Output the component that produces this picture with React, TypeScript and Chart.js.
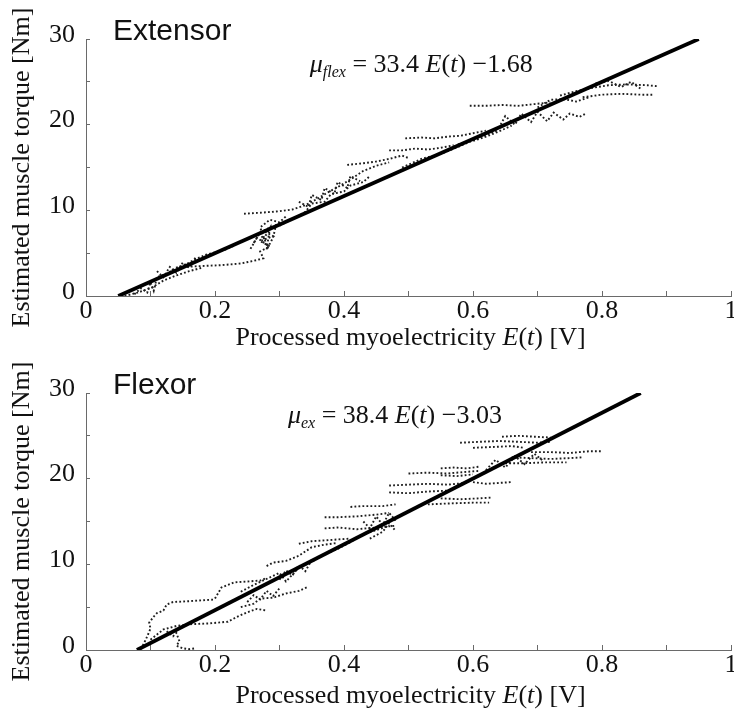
import React, { useEffect, useRef } from 'react';
import { Chart, registerables } from 'chart.js';

Chart.register(...registerables);

// ---- tick labels ----
const xTickLabels = ['0', '', '0.2', '', '0.4', '', '0.6', '', '0.8', '', '1'];
const yTickLabels = ['0', '', '10', '', '20', '', '30'];

// ---- fitted lines ----
const extensorFitE = [0.05, 0.95];
const extensorFitTorque = [0, 30];
const flexorFitE = [0.079, 0.86];
const flexorFitTorque = [0, 30];

// ---- measured traces: one inner array per dotted trace ----
const extensorE: number[][] = [
  [0.075, 0.085, 0.095, 0.1, 0.105, 0.11, 0.125, 0.14, 0.155, 0.17, 0.185, 0.2, 0.215, 0.23],
  [0.06, 0.08, 0.1, 0.12, 0.14, 0.16, 0.18],
  [0.15, 0.18, 0.21, 0.24, 0.26, 0.275, 0.27, 0.285, 0.27, 0.29, 0.275, 0.29],
  [0.255, 0.265, 0.28, 0.27, 0.285, 0.3, 0.31],
  [0.245, 0.265, 0.285, 0.3, 0.32, 0.34, 0.36, 0.375, 0.39, 0.41, 0.43, 0.45, 0.47],
  [0.3, 0.32, 0.34, 0.35, 0.37, 0.38, 0.4, 0.41, 0.43, 0.44],
  [0.405, 0.43, 0.45, 0.47, 0.49, 0.5],
  [0.47, 0.49, 0.51, 0.53, 0.55, 0.57],
  [0.495, 0.52, 0.54, 0.56, 0.58, 0.6, 0.62],
  [0.49, 0.52, 0.55, 0.58, 0.6, 0.62, 0.64],
  [0.595, 0.62, 0.645, 0.67, 0.695, 0.72],
  [0.64, 0.65, 0.665, 0.675, 0.69, 0.7, 0.715, 0.725, 0.74, 0.75, 0.765, 0.775],
  [0.735, 0.76, 0.785, 0.81, 0.84, 0.87, 0.885],
  [0.77, 0.8, 0.83, 0.86, 0.88],
  [0.79, 0.81, 0.83, 0.845, 0.86],
  [0.7, 0.72, 0.74, 0.76, 0.78],
  [0.33, 0.345, 0.35, 0.365, 0.37, 0.385, 0.39, 0.405, 0.41, 0.425],
  [0.26, 0.27, 0.275, 0.285, 0.28, 0.29, 0.295],
  [0.56, 0.58, 0.6, 0.62, 0.64, 0.66],
  [0.11, 0.12, 0.13, 0.14, 0.15, 0.16, 0.17],
];
const extensorTorque: number[][] = [
  [0.2, 0.9, 0.4, 1.6, 0.6, 2.2, 2.6, 3.3, 3.7, 4.3, 4.8, 5.1, 5.4, 5.9],
  [0, 0.4, 0.9, 1.8, 2.4, 2.9, 3.3],
  [3.4, 3.5, 3.6, 3.8, 4.1, 4.4, 5.2, 5.8, 6.4, 7.0, 7.6, 8.2],
  [5.5, 6.8, 6.0, 8.0, 8.9, 8.6, 9.3],
  [9.6, 9.7, 9.8, 9.9, 10.1, 10.6, 11.4, 12.1, 12.7, 13.6, 14.6, 15.2, 15.6],
  [8.2, 9.0, 9.8, 10.8, 11.0, 11.9, 12.2, 12.9, 13.3, 14.0],
  [15.3, 15.5, 15.7, 16.0, 16.4, 16.1],
  [17.0, 17.0, 17.2, 17.1, 17.3, 17.6],
  [18.4, 18.5, 18.4, 18.6, 18.7, 19.0, 19.3],
  [15.0, 16.0, 16.6, 17.5, 18.2, 18.8, 19.4],
  [22.2, 22.2, 22.3, 22.2, 22.4, 22.6],
  [19.6, 21.0, 20.0, 21.3, 20.3, 21.5, 20.4, 21.4, 20.6, 21.3, 20.9, 21.3],
  [23.4, 23.9, 24.3, 24.6, 24.7, 24.6, 24.5],
  [23.2, 23.5, 23.6, 23.5, 23.5],
  [24.8, 25.1, 24.4, 25.0, 24.2],
  [22.0, 22.9, 23.0, 22.7, 23.2],
  [11.0, 10.4, 11.8, 11.2, 12.6, 11.9, 13.3, 12.6, 14.0, 13.4],
  [6.2, 7.4, 6.6, 7.9, 5.4, 6.8, 8.4],
  [17.0, 17.8, 18.1, 18.6, 19.2, 19.9],
  [2.9, 2.2, 3.4, 2.7, 3.9, 3.3, 4.5],
];

const flexorE: number[][] = [
  [0.085, 0.09, 0.095, 0.1, 0.098, 0.105, 0.11, 0.12, 0.125, 0.135, 0.16, 0.18, 0.2],
  [0.2, 0.21, 0.23, 0.25, 0.27, 0.28],
  [0.28, 0.29, 0.31, 0.33, 0.35, 0.37, 0.39],
  [0.125, 0.135, 0.14, 0.145, 0.14, 0.15, 0.16, 0.17],
  [0.1, 0.12, 0.14, 0.16, 0.19, 0.22, 0.235, 0.25, 0.265, 0.28],
  [0.24, 0.26, 0.27, 0.29, 0.31, 0.33, 0.345],
  [0.24, 0.26, 0.28, 0.3, 0.31, 0.33, 0.35, 0.37, 0.39, 0.41, 0.43, 0.45, 0.47],
  [0.33, 0.35, 0.37, 0.39, 0.41],
  [0.37, 0.39, 0.42, 0.45, 0.48],
  [0.37, 0.39, 0.42, 0.45, 0.47],
  [0.41, 0.43, 0.46, 0.48],
  [0.44, 0.46, 0.47, 0.48],
  [0.5, 0.53, 0.56, 0.59, 0.61],
  [0.47, 0.5, 0.53, 0.56, 0.59],
  [0.47, 0.5, 0.53, 0.56],
  [0.55, 0.58, 0.61, 0.63],
  [0.53, 0.56, 0.6, 0.625],
  [0.645, 0.67, 0.695, 0.72],
  [0.58, 0.61, 0.64, 0.67, 0.7, 0.72],
  [0.6, 0.63, 0.66, 0.68],
  [0.69, 0.72, 0.75, 0.78, 0.8],
  [0.66, 0.69, 0.72, 0.75, 0.77],
  [0.65, 0.68, 0.71, 0.745],
  [0.55, 0.57, 0.59, 0.61],
  [0.55, 0.575, 0.6],
  [0.6, 0.62, 0.64, 0.66],
  [0.3, 0.31, 0.32, 0.33, 0.34, 0.35],
  [0.43, 0.44, 0.45, 0.46, 0.47, 0.48],
  [0.62, 0.635, 0.65, 0.665, 0.68, 0.695, 0.71],
  [0.25, 0.26, 0.27, 0.28, 0.29, 0.3],
];
const flexorTorque: number[][] = [
  [0.1, 0.8, 1.6, 2.5, 3.2, 3.9, 4.3, 4.6, 5.3, 5.6, 5.7, 5.8, 5.9],
  [6.0, 7.3, 7.9, 8.0, 8.1, 8.4],
  [9.8, 10.2, 10.4, 11.0, 12.0, 12.3, 12.5],
  [2.2, 1.6, 2.0, 1.0, 0.5, 0.2, 0.1, 0.2],
  [1.2, 2.4, 2.8, 3.0, 3.1, 3.3, 3.9, 4.4, 4.8, 4.6],
  [5.0, 5.4, 6.0, 6.1, 6.6, 6.9, 7.4],
  [6.8, 7.6, 8.3, 9.0, 8.0, 9.6, 10.3, 11.2, 11.8, 12.6, 13.5, 14.0, 14.5],
  [12.4, 12.7, 12.8, 12.9, 13.0],
  [14.2, 14.3, 14.1, 14.3, 14.5],
  [15.5, 15.5, 15.6, 15.8, 16.0],
  [16.7, 16.8, 16.8, 17.0],
  [13.0, 13.8, 14.8, 13.9],
  [20.6, 20.7, 20.6, 20.8, 20.9],
  [19.2, 19.3, 19.4, 19.3, 19.5],
  [18.4, 18.3, 18.5, 18.6],
  [17.7, 17.6, 17.7, 17.8],
  [17.0, 17.1, 17.2, 17.2],
  [24.9, 25.0, 24.9, 24.8],
  [24.2, 24.3, 24.4, 24.3, 24.2, 24.3],
  [23.6, 23.7, 23.8, 23.6],
  [23.1, 23.1, 23.0, 23.2, 23.2],
  [22.5, 22.4, 22.3, 22.4, 22.5],
  [21.8, 21.8, 21.9, 21.9],
  [21.2, 21.3, 21.2, 21.4],
  [20.4, 20.3, 20.5],
  [19.6, 19.4, 19.5, 19.6],
  [8.2, 9.3, 8.7, 9.9, 9.2, 10.5],
  [15.0, 14.2, 15.6, 14.6, 16.0, 15.1],
  [21.0, 22.2, 21.3, 22.6, 21.7, 22.9, 22.0],
  [5.6, 6.4, 5.9, 6.9, 6.3, 7.2],
];

type Part = { t: string; i?: boolean; sub?: boolean };

const SERIF = '"Liberation Serif", "Times New Roman", serif';
const SANS = '"Liberation Sans", Arial, sans-serif';
const CANVAS_W = 760;

const xTitleParts: Part[] = [
  { t: 'Processed myoelectricity ' },
  { t: 'E', i: true },
  { t: '(' },
  { t: 't', i: true },
  { t: ') [V]' },
];

function partFont(p: Part) {
  const size = p.sub ? 16 : 26;
  return `${p.i ? 'italic ' : ''}${size}px ${SERIF}`;
}

function drawParts(ctx: CanvasRenderingContext2D, parts: Part[], x: number, y: number) {
  let cx = x;
  for (const p of parts) {
    ctx.font = partFont(p);
    ctx.fillText(p.t, cx, y + (p.sub ? 5 : 0));
    cx += ctx.measureText(p.t).width;
  }
}

function partsWidth(ctx: CanvasRenderingContext2D, parts: Part[]) {
  let w = 0;
  for (const p of parts) {
    ctx.font = partFont(p);
    w += ctx.measureText(p.t).width;
  }
  return w;
}

const textPlugin = {
  id: 'panelText',
  afterDatasetsDraw(chart: any, _args: any, opts: any) {
    const { ctx, chartArea, scales } = chart;
    ctx.save();
    ctx.fillStyle = '#111';
    ctx.textBaseline = 'alphabetic';
    ctx.textAlign = 'left';
    // panel title
    ctx.font = `30px ${SANS}`;
    ctx.fillText(opts.title, chartArea.left + 27, chartArea.top + 1);
    // regression equation
    const ex = scales.x.getPixelForValue(opts.eqE);
    const ey = scales.y.getPixelForValue(opts.eqTorque);
    drawParts(ctx, opts.eq, ex, ey);
    // x axis title
    const w = partsWidth(ctx, xTitleParts);
    const cx = (chartArea.left + chartArea.right) / 2 + 2;
    drawParts(ctx, xTitleParts, cx - w / 2, chartArea.bottom + opts.xTitleDy);
    ctx.restore();
  },
};

type PanelProps = {
  top: number;
  height: number;
  segE: number[][];
  segT: number[][];
  fitE: number[];
  fitT: number[];
  title: string;
  eq: Part[];
  eqE: number;
  eqTorque: number;
  xTitleDy: number;
};

function Panel(props: PanelProps) {
  const ref = useRef<HTMLCanvasElement>(null);
  useEffect(() => {
    const canvas = ref.current;
    if (!canvas) return;
    const traceSets = props.segE.map((xs, s) => ({
      data: xs.map((x, i) => ({ x, y: props.segT[s][i] })),
      showLine: true,
      borderColor: '#1e1e1e',
      borderWidth: 1.9,
      borderDash: [1.8, 2.2],
      pointRadius: 0,
      order: 2,
    }));
    const fitSet = {
      data: props.fitE.map((x, i) => ({ x, y: props.fitT[i] })),
      showLine: true,
      borderColor: '#000',
      borderWidth: 3.8,
      pointRadius: 0,
      order: 0,
    };
    const axisColor = '#6a6a6a';
    const chart = new Chart(canvas, {
      type: 'scatter',
      data: { datasets: [fitSet, ...traceSets] as any },
      plugins: [textPlugin as any],
      options: {
        animation: false,
        responsive: false,
        devicePixelRatio: 1,
        layout: { padding: { top: 39, left: 0, right: CANVAS_W - 731, bottom: 0 } },
        plugins: {
          legend: { display: false },
          tooltip: { enabled: false },
          panelText: {
            title: props.title,
            eq: props.eq,
            eqE: props.eqE,
            eqTorque: props.eqTorque,
            xTitleDy: props.xTitleDy,
          },
        } as any,
        scales: {
          x: {
            type: 'linear',
            min: 0,
            max: 1,
            afterFit: (s: any) => {
              s.height = props.height - 296;
            },
            border: { display: true, color: axisColor, width: 1 },
            grid: { drawOnChartArea: false, drawTicks: true, tickLength: -5, color: axisColor },
            ticks: {
              stepSize: 0.1,
              autoSkip: false,
              maxRotation: 0,
              padding: 7,
              color: '#111',
              font: { family: SERIF, size: 26, lineHeight: 1 },
              callback: (v: any) => xTickLabels[Math.round(Number(v) * 10)] ?? '',
            },
          },
          y: {
            type: 'linear',
            min: 0,
            max: 30,
            afterFit: (s: any) => {
              s.width = 86;
            },
            border: { display: true, color: axisColor, width: 1 },
            grid: { drawOnChartArea: false, drawTicks: true, tickLength: -4, color: axisColor },
            title: {
              display: true,
              text: 'Estimated muscle torque [Nm]',
              color: '#111',
              font: { family: SERIF, size: 26, lineHeight: 1 },
              padding: { top: 9, bottom: 0 },
            },
            ticks: {
              stepSize: 5,
              autoSkip: false,
              padding: 15,
              labelOffset: -4,
              color: '#111',
              font: { family: SERIF, size: 26, lineHeight: 1 },
              callback: (v: any) => yTickLabels[Math.round(Number(v) / 5)] ?? '',
            },
          },
        },
      } as any,
    });
    return () => chart.destroy();
  }, []);
  return (
    <canvas
      ref={ref}
      width={CANVAS_W}
      height={props.height}
      style={{ position: 'absolute', left: 0, top: props.top, width: CANVAS_W, height: props.height, display: 'block' }}
    />
  );
}

const extensorEq: Part[] = [
  { t: 'μ', i: true },
  { t: 'flex', i: true, sub: true },
  { t: ' = 33.4 ' },
  { t: 'E', i: true },
  { t: '(' },
  { t: 't', i: true },
  { t: ')' },
  { t: ' −1.68' },
];
const flexorEq: Part[] = [
  { t: 'μ', i: true },
  { t: 'ex', i: true, sub: true },
  { t: ' = 38.4 ' },
  { t: 'E', i: true },
  { t: '(' },
  { t: 't', i: true },
  { t: ')' },
  { t: ' −3.03' },
];

export default function App() {
  return (
    <div
      style={{
        position: 'absolute',
        left: 0,
        top: 0,
        width: 734,
        height: 722,
        overflow: 'hidden',
        background: '#fff',
      }}
    >
      <Panel
        top={0}
        height={354}
        segE={extensorE}
        segT={extensorTorque}
        fitE={extensorFitE}
        fitT={extensorFitTorque}
        title="Extensor"
        eq={extensorEq}
        eqE={0.347}
        eqTorque={26.15}
        xTitleDy={49}
      />
      <Panel
        top={354}
        height={368}
        segE={flexorE}
        segT={flexorTorque}
        fitE={flexorFitE}
        fitT={flexorFitTorque}
        title="Flexor"
        eq={flexorEq}
        eqE={0.313}
        eqTorque={26.5}
        xTitleDy={53}
      />
    </div>
  );
}
